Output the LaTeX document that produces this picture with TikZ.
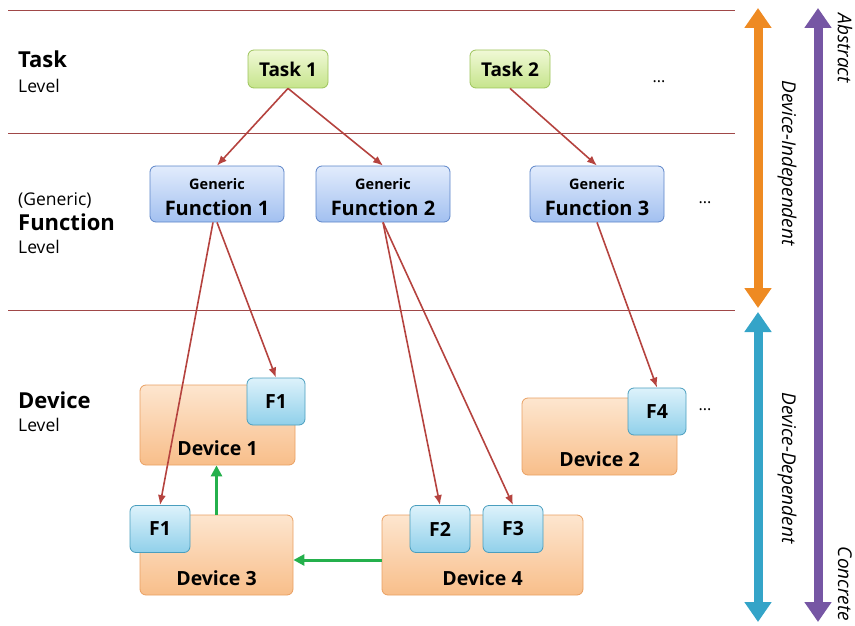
\documentclass[tikz,border=0pt]{standalone}
\usepackage{fontspec}
\setmainfont{Open Sans}
\usepackage{xcolor}
\usetikzlibrary{arrows.meta}

\definecolor{tasktop}{HTML}{F0F9D6}
\definecolor{taskbot}{HTML}{C6E48C}
\definecolor{taskline}{HTML}{9CC35A}
\definecolor{funtop}{HTML}{E2ECFC}
\definecolor{funbot}{HTML}{A2C0F0}
\definecolor{funline}{HTML}{5C84C8}
\definecolor{devtop}{HTML}{FDE6CF}
\definecolor{devbot}{HTML}{F8BE8A}
\definecolor{devline}{HTML}{E9A062}
\definecolor{ftop}{HTML}{DDF2FB}
\definecolor{fbot}{HTML}{90D0EA}
\definecolor{fline}{HTML}{4A9EBE}
\definecolor{linkred}{HTML}{B5433F}
\definecolor{sepred}{HTML}{A04848}
\definecolor{linkgreen}{HTML}{24B04C}
\definecolor{indcol}{HTML}{EE8A22}
\definecolor{depcol}{HTML}{34A4C8}
\definecolor{abscol}{HTML}{7656A4}

\begin{document}
\begin{tikzpicture}[x=1pt,y=-1pt,
    box/.style={rounded corners=6pt, draw, line width=0.8pt, inner sep=3pt},
    taskbox/.style={box, draw=taskline, top color=tasktop, bottom color=taskbot,
      minimum width=80pt, minimum height=38pt, font=\fontsize{19}{22}\selectfont\bfseries},
    funbox/.style={box, draw=funline, top color=funtop, bottom color=funbot,
      minimum width=134pt, text height=46pt, text depth=4pt,
      font=\fontsize{20}{24}\selectfont\bfseries,
      label={[anchor=base, yshift=-24pt, font=\fontsize{14.5}{17}\selectfont\bfseries]north:Generic}},
    devbox/.style={box, draw=devline, top color=devtop, bottom color=devbot,
      text height=67pt, text depth=7pt, font=\fontsize{19.5}{22}\selectfont\bfseries},
    fbox/.style={box, draw=fline, top color=ftop, bottom color=fbot,
      minimum width=58pt, minimum height=47pt, font=\fontsize{19.5}{22}\selectfont\bfseries},
    link/.style={linkred, line width=1.6pt, -{Latex[length=10pt,width=8pt]}},
    glink/.style={linkgreen, line width=3pt, -{Triangle[length=11pt,width=11pt]}},
    bigarrow/.style={line width=9pt, {Triangle[length=20pt,width=26pt]}-{Triangle[length=20pt,width=26pt]}},
    sepline/.style={sepred, line width=0.6pt},
    lvlname/.style={anchor=base west, inner sep=0pt, font=\fontsize{22}{26}\selectfont\bfseries},
    lvlsub/.style={anchor=base west, inner sep=0pt, font=\fontsize{17.5}{21}\selectfont},
    dots/.style={anchor=base, inner sep=0pt, font=\fontsize{16}{19}\selectfont},
    side/.style={rotate=-90, font=\fontsize{19}{22}\selectfont\itshape}]

    \useasboundingbox (0,0) rectangle (855,626);

    % level separators
    \draw[sepline] (8,10) -- (735,10);
    \draw[sepline] (8,133) -- (735,133);
    \draw[sepline] (8,310) -- (735,310);

    % level names
    \node[lvlname] (tasklvl) at (18,68) {Task};
    \node[lvlsub] (tasklvlsub) at (18,93) {Level};
    \node[lvlsub] (funlvlpre) at (18,205) {(Generic)};
    \node[lvlname] (funlvl) at (18,230) {Function};
    \node[lvlsub] (funlvlsub) at (18,253) {Level};
    \node[lvlname] (devlvl) at (18,408) {Device};
    \node[lvlsub] (devlvlsub) at (18,431) {Level};

    % tasks
    \node[taskbox] (task1) at (288,69) {Task 1};
    \node[taskbox] (task2) at (510,69) {Task 2};
    \node[dots] (taskdots) at (659,83) {...};

    % generic functions
    \node[funbox] (gfun1) at (217,194) {Function 1};
    \node[funbox] (gfun2) at (383,194) {Function 2};
    \node[funbox] (gfun3) at (597,194) {Function 3};
    \node[dots] (fundots) at (705,203) {...};

    % devices
    \node[devbox, minimum width=155pt] (dev1) at (217.5,425) {Device 1};
    \node[devbox, minimum width=153pt] (dev3) at (216.5,555) {Device 3};
    \node[devbox, minimum width=201pt] (dev4) at (482.5,555) {Device 4};
    \node[devbox, minimum width=155pt, text height=65pt, text depth=6pt] (dev2) at (599.5,436.5) {Device 2};
    \node[fbox] (fa) at (276,401.5) {F1};
    \node[fbox, minimum width=60pt] (fb) at (160,529) {F1};
    \node[fbox, minimum width=60pt] (f2) at (440,529) {F2};
    \node[fbox, minimum width=60pt] (f3) at (513,529) {F3};
    \node[fbox] (f4) at (657,411.5) {F4};
    \node[dots] (devdots) at (705,410) {...};

    % mappings
    \draw[link] (task1.south) -- (gfun1.north);
    \draw[link] (task1.south) -- (gfun2.north);
    \draw[link] (task2.south) -- (gfun3.north);
    \draw[link] (gfun1.south) -- (fa.north);
    \draw[link] ([xshift=-4pt]gfun1.south) -- (fb.north);
    \draw[link] (gfun2.south) -- (f2.north);
    \draw[link] (gfun2.south) -- (f3.north);
    \draw[link] (gfun3.south) -- (f4.north);
    \draw[glink] (dev3.north) -- (dev3.north |- dev1.south);
    \draw[glink] ([yshift=-5pt]dev4.west) -- ([yshift=-5pt]dev3.east);

    % side scales
    \coordinate (indtop) at (758,8);
    \coordinate (indbot) at (758,308);
    \coordinate (deptop) at (758,312);
    \coordinate (depbot) at (758,622);
    \coordinate (abstop) at (818,8);
    \coordinate (absbot) at (818,622);
    \draw[bigarrow, indcol] (indtop) -- (indbot);
    \draw[bigarrow, depcol] (deptop) -- (depbot);
    \draw[bigarrow, abscol] (abstop) -- (absbot);
    \node[side] (indep) at (787,163) {Device-Independent};
    \node[side] (dep) at (787,468) {Device-Dependent};
    \node[side] (abstr) at (845,48) {Abstract};
    \node[side] (concr) at (845,584) {Concrete};
\end{tikzpicture}
\end{document}
